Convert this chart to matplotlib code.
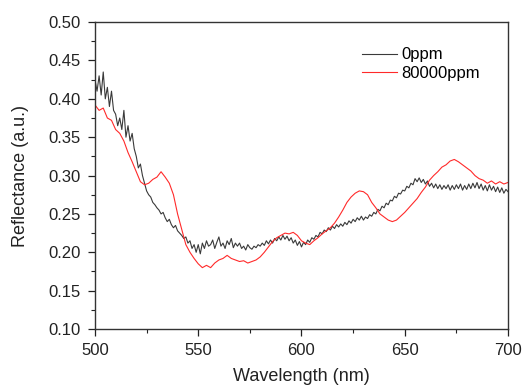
import numpy as np
import matplotlib
matplotlib.use("Agg")
import matplotlib.pyplot as plt
from matplotlib.ticker import MultipleLocator

# 0 ppm sample, 1 nm step from 500 to 700 nm
refl_0ppm = [
    0.425, 0.41, 0.43, 0.405, 0.435, 0.40, 0.415, 0.39, 0.41, 0.385,
    0.38, 0.365, 0.375, 0.36, 0.385, 0.35, 0.365, 0.345, 0.355, 0.335,
    0.325, 0.31, 0.315, 0.30, 0.29, 0.28, 0.275, 0.272, 0.265, 0.262,
    0.258, 0.255, 0.25, 0.252, 0.245, 0.24, 0.243, 0.236, 0.232, 0.235,
    0.228, 0.225, 0.222, 0.218, 0.22, 0.212, 0.215, 0.205, 0.21, 0.2,
    0.21, 0.198, 0.212, 0.205, 0.215, 0.208, 0.21, 0.216, 0.205, 0.213,
    0.22, 0.208, 0.212, 0.205, 0.215, 0.21, 0.218, 0.206, 0.212, 0.208,
    0.212, 0.205, 0.208, 0.203, 0.21, 0.206, 0.204, 0.208, 0.206, 0.21,
    0.208, 0.212, 0.209, 0.215, 0.211, 0.216, 0.212, 0.218, 0.215, 0.22,
    0.216, 0.222, 0.217, 0.221, 0.215, 0.219, 0.212, 0.216, 0.209, 0.214,
    0.207, 0.213, 0.21, 0.216, 0.213, 0.219, 0.217, 0.222, 0.22, 0.226,
    0.224, 0.229, 0.227, 0.232, 0.229, 0.234, 0.231, 0.236, 0.233, 0.237,
    0.234, 0.239, 0.236, 0.241, 0.238, 0.243, 0.24, 0.245, 0.242, 0.247,
    0.242, 0.246, 0.244, 0.249, 0.247, 0.252, 0.25, 0.256, 0.254, 0.26,
    0.258, 0.264, 0.262, 0.268, 0.267, 0.273, 0.271, 0.277, 0.276, 0.281,
    0.28, 0.286, 0.284, 0.29, 0.288, 0.296, 0.292, 0.297, 0.291, 0.295,
    0.289, 0.293, 0.286, 0.29, 0.284, 0.289, 0.283, 0.288, 0.282, 0.287,
    0.283, 0.288, 0.281, 0.287, 0.282, 0.288, 0.283, 0.289, 0.281, 0.287,
    0.282, 0.289, 0.283, 0.29, 0.284, 0.291, 0.283, 0.289, 0.281, 0.287,
    0.28, 0.288, 0.281, 0.286, 0.279, 0.285, 0.278, 0.284, 0.277, 0.282,
    0.279,
]

# 80000 ppm sample, 2 nm step from 500 to 700 nm
refl_80000ppm = [
    0.392, 0.385, 0.388, 0.375, 0.372, 0.36, 0.355, 0.345, 0.33, 0.318,
    0.305, 0.292, 0.288, 0.29, 0.295, 0.298, 0.305, 0.298, 0.29, 0.275,
    0.25, 0.23, 0.21, 0.2, 0.192, 0.185, 0.18, 0.183, 0.18, 0.186,
    0.19, 0.192, 0.196, 0.192, 0.19, 0.188, 0.189, 0.186, 0.188, 0.19,
    0.194, 0.2, 0.207, 0.214, 0.219, 0.222, 0.225, 0.224, 0.226, 0.222,
    0.215, 0.212, 0.21, 0.215, 0.219, 0.224, 0.228, 0.232, 0.238, 0.246,
    0.255, 0.265, 0.272, 0.277, 0.28, 0.279, 0.275, 0.265, 0.258, 0.25,
    0.246, 0.242, 0.24, 0.242, 0.247, 0.252, 0.258, 0.264, 0.27, 0.278,
    0.285, 0.294, 0.3, 0.305, 0.311, 0.314, 0.319, 0.321, 0.318, 0.314,
    0.31, 0.306, 0.3, 0.296, 0.294, 0.29, 0.293, 0.289, 0.292, 0.289,
    0.291,
]

wl_0ppm = np.linspace(500, 700, len(refl_0ppm))
wl_80000ppm = np.linspace(500, 700, len(refl_80000ppm))

plt.rcParams['font.family'] = ['Liberation Sans', 'DejaVu Sans']

fig = plt.figure(figsize=(5.23, 3.88), dpi=100)
ax = fig.add_axes([0.1816, 0.152, 0.7897, 0.791])

ax.plot(wl_0ppm, refl_0ppm, color='#3a3a3a', lw=0.8, label='0ppm')
ax.plot(wl_80000ppm, refl_80000ppm, color='#ff2a2a', lw=0.8, label='80000ppm')

ax.set_xlim(500, 700)
ax.set_ylim(0.10, 0.50)
ax.xaxis.set_major_locator(MultipleLocator(50))
ax.xaxis.set_minor_locator(MultipleLocator(25))
ax.yaxis.set_major_locator(MultipleLocator(0.05))
ax.yaxis.set_minor_locator(MultipleLocator(0.025))
ax.yaxis.set_major_formatter(matplotlib.ticker.FormatStrFormatter('%.2f'))
ax.tick_params(which='both', direction='out', top=False, right=False,
               labelsize=12, colors='#222222', pad=5)
ax.tick_params(which='major', length=5, width=0.9)
ax.tick_params(which='minor', length=3, width=0.8)
for s in ax.spines.values():
    s.set_linewidth(1.0)
    s.set_color('#333333')

ax.set_xlabel('Wavelength (nm)', fontsize=13, color='#222222', labelpad=7)
ax.set_ylabel('Reflectance (a.u.)', fontsize=13, color='#222222', labelpad=14)

ax.legend(loc='upper right', bbox_to_anchor=(0.957, 0.95), frameon=False,
          fontsize=12, handlelength=2.1, handletextpad=0.3, labelspacing=0.2,
          borderaxespad=0.2)

fig.savefig('out.png', dpi=100)
